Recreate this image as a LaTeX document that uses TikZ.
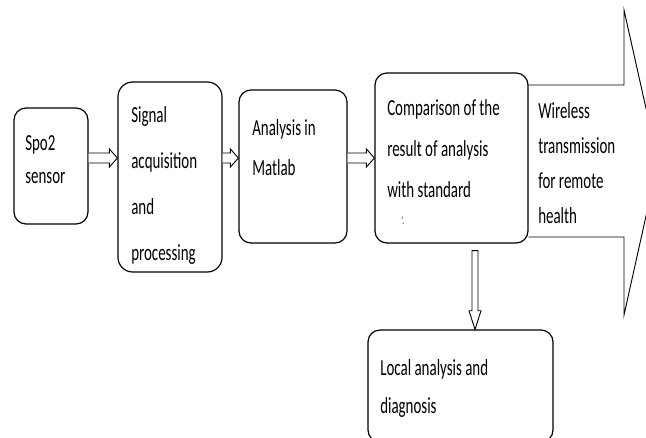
\documentclass[tikz,border=0pt]{standalone}
\usepackage{fontspec}
\setmainfont{Carlito}[FakeStretch=0.65]
\usetikzlibrary{calc}

% hollow double-line arrow between two boxes at the height of a coordinate
\newcommand{\hflow}[3]{%
  \draw[flow] let \p1=(#1.east), \p2=(#2.west), \p3=(#3) in
    (\x1,\y3+3.75pt) -- (\x2-6pt,\y3+3.75pt) -- (\x2-6pt,\y3+6.75pt) -- (\x2,\y3)
    -- (\x2-6pt,\y3-6.75pt) -- (\x2-6pt,\y3-3.75pt) -- (\x1,\y3-3.75pt);}

\tikzset{
  box/.style={draw, line width=0.9pt, rounded corners=9pt, inner sep=0pt},
  lbl/.style={anchor=base west, align=left, inner sep=0pt},
  flow/.style={draw, line width=0.7pt, fill=white},
}

\begin{document}
\begin{tikzpicture}[x=0.75pt,y=-0.75pt]
    \useasboundingbox (0,0) rectangle (646,437);

    % boxes
    \node[box, minimum width=74pt*0.75, minimum height=116pt*0.75] (spo) at (51,166) {};
    \node[box, minimum width=104pt*0.75, minimum height=190pt*0.75, rounded corners=11pt] (sig) at (170,177) {};
    \node[box, minimum width=108pt*0.75, minimum height=153pt*0.75] (mat) at (293,166.5) {};
    \node[box, minimum width=153pt*0.75, minimum height=170pt*0.75] (cmp) at (451.5,158) {};
    \node[box, minimum width=185pt*0.75, minimum height=112pt*0.75] (loc) at (460.5,386) {};

    % texts (placed at the baseline of their last line)
    \node[lbl, font={\fontsize{17.25}{24.75}\selectfont}] (spotxt) at (25,183) {Spo2\\sensor};
    \node[lbl, font={\fontsize{17.25}{34.5}\selectfont}] (sigtxt) at (131,260) {Signal\\acquisition\\and\\processing};
    \node[lbl, font={\fontsize{17.25}{30}\selectfont}] (mattxt) at (252,175) {Analysis in\\Matlab};
    \node[lbl, font={\fontsize{17.25}{30.75}\selectfont}] (cmptxt) at (387,197) {Comparison of the\\result of analysis\\with standard};
    \node[lbl, font={\fontsize{8}{8}\selectfont}] (cmpmark) at (401,224) {‘.};
    \node[lbl, font={\fontsize{17.25}{28.5}\selectfont}] (loctxt) at (380,413) {Local analysis and\\diagnosis};
    \node[lbl, font={\fontsize{17.25}{26.25}\selectfont}] (wltxt) at (538,223) {Wireless\\transmission\\for remote\\health};

    % arrows
    \coordinate (lv) at (0,158);
    \hflow{spo}{sig}{lv}
    \hflow{sig}{mat}{lv}
    \hflow{mat}{cmp}{lv}

    \coordinate (vx) at (475,0);
    \draw[flow] let \p1=(cmp.south), \p2=(loc.north), \p3=(vx) in
      (\x3-2.25pt,\y1-5.25pt) -- (\x3-2.25pt,\y2+14pt) -- (\x3-4.5pt,\y2+14pt) -- (\x3,\y2)
      -- (\x3+4.5pt,\y2+14pt) -- (\x3+2.25pt,\y2+14pt) -- (\x3+2.25pt,\y1-5.25pt) -- cycle;

    % big arrow for remote transmission
    \draw[line width=0.7pt] (cmp.east |- 0,85) -- (624,85) -- (624,10) -- (658,162)
      -- (624,315) -- (624,237) -- (cmp.east |- 0,237);
  \end{tikzpicture}
\end{document}
